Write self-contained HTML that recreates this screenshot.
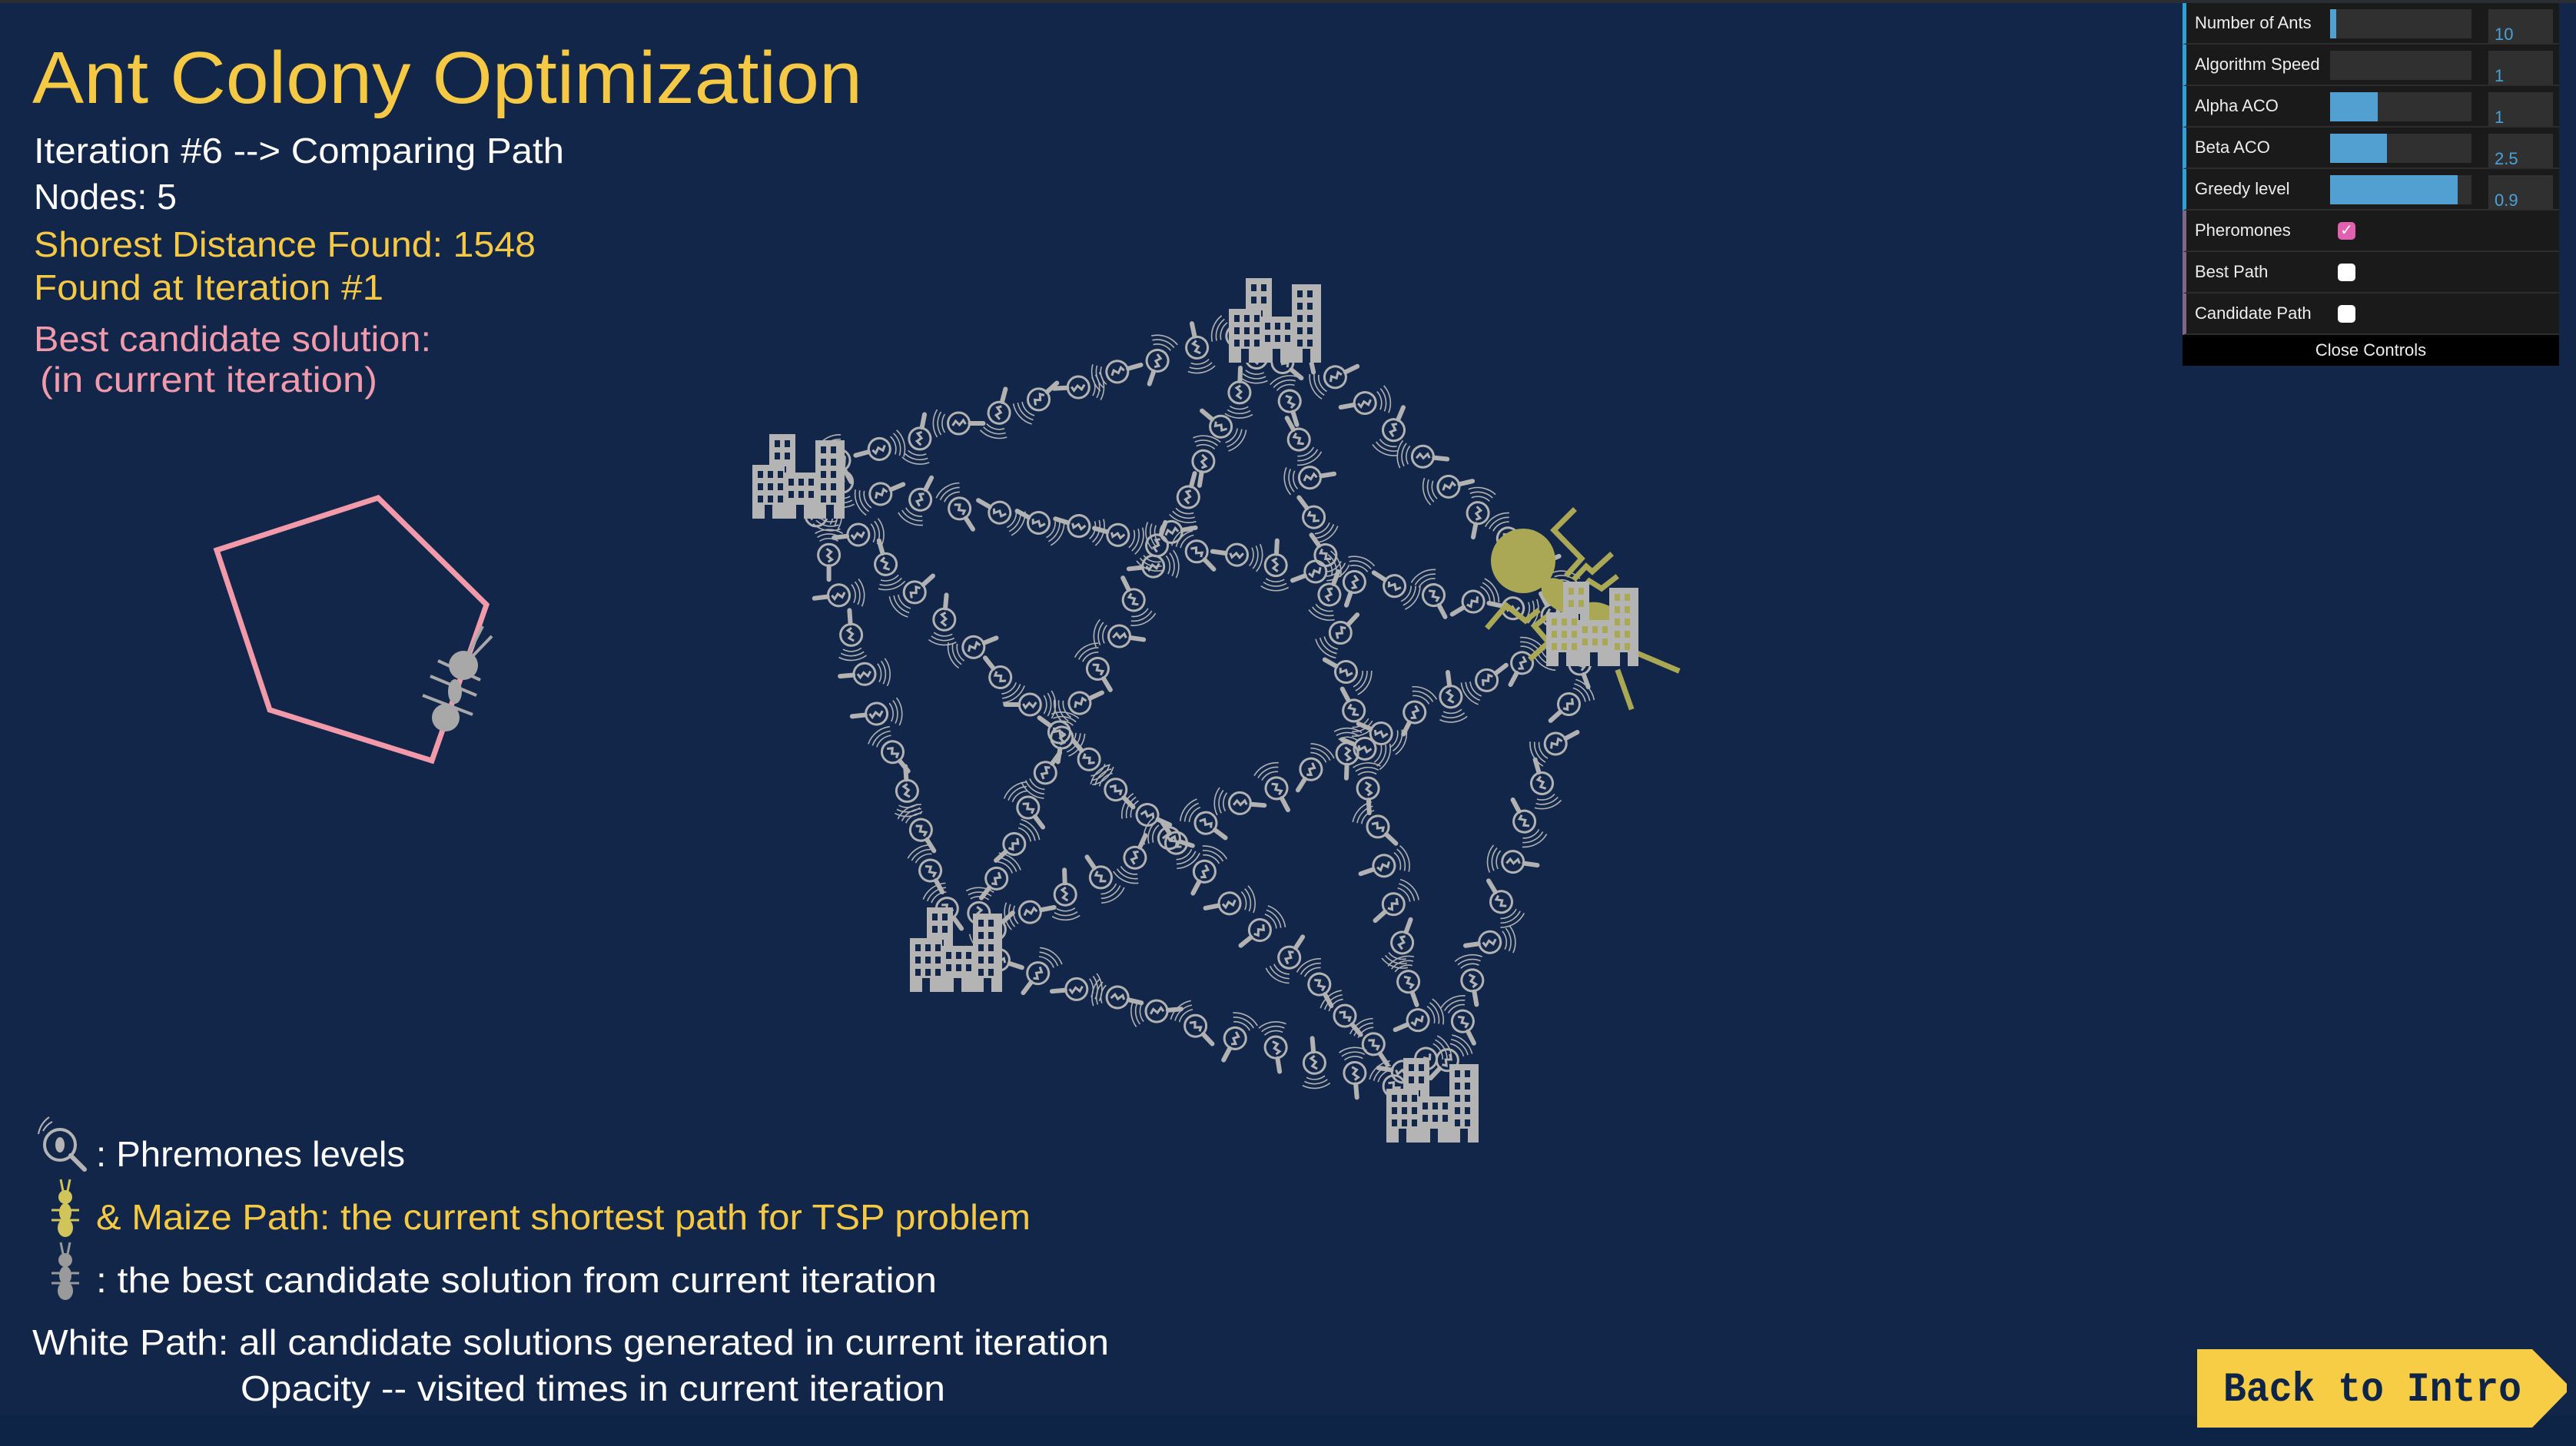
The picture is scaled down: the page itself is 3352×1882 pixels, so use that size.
<!DOCTYPE html>
<html><head><meta charset="utf-8">
<style>
html,body{margin:0;padding:0;}
body{width:3352px;height:1882px;overflow:hidden;background:#12264a;position:relative;font-family:"Liberation Sans",sans-serif;}
#topbar{position:absolute;left:0;top:0;width:3352px;height:4px;background:#2a2d33;}
#bottom{position:absolute;left:0;top:1842px;width:3352px;height:40px;background:#0e2447;}
svg{position:absolute;left:0;top:0;}
.panel{position:absolute;left:2840px;top:4px;width:490px;background:#1a1a1a;}
.row{position:relative;height:52px;border-bottom:2px solid #2c2c2c;border-left:5px solid #2fa1d6;box-sizing:content-box;}
.row.cb{border-left-color:#806787;}
.row .lbl{position:absolute;left:11px;top:13px;color:#eee;font-size:22px;white-space:nowrap;}
.row .trk{position:absolute;left:187px;top:8px;width:184px;height:38px;background:#303030;}
.row .fill{position:absolute;left:0;top:0;height:38px;background:#52a0d2;}
.row .val{position:absolute;left:393px;top:8px;width:84px;height:44px;background:#303030;color:#4aa2d8;font-size:22px;}
.row .val span{position:absolute;left:8px;bottom:-2px;}
.row .box{position:absolute;left:197px;top:15px;width:23px;height:23px;border-radius:5px;background:#fff;}
.row .box.on{background:#e061b0;color:#fff;font-size:20px;line-height:23px;text-align:center;}
.close{height:40px;background:#000;color:#eee;font-size:22px;text-align:center;line-height:40px;}
</style></head>
<body>
<div id="topbar"></div>
<div id="bottom"></div>
<svg id="g" width="3352" height="1882" viewBox="0 0 3352 1882" xmlns="http://www.w3.org/2000/svg">
<g font-family="Liberation Sans, sans-serif">
<text x="42" y="134" font-size="96" fill="#f6c945" textLength="1080" lengthAdjust="spacingAndGlyphs">Ant Colony Optimization</text>
<text x="44" y="212" font-size="46" fill="#ffffff" textLength="690" lengthAdjust="spacingAndGlyphs">Iteration #6 --&gt; Comparing Path</text>
<text x="44" y="272" font-size="46" fill="#ffffff" textLength="186" lengthAdjust="spacingAndGlyphs">Nodes: 5</text>
<text x="44" y="334" font-size="46" fill="#f6c945" textLength="653" lengthAdjust="spacingAndGlyphs">Shorest Distance Found: 1548</text>
<text x="44" y="390" font-size="46" fill="#f6c945" textLength="455" lengthAdjust="spacingAndGlyphs">Found at Iteration #1</text>
<text x="44" y="457" font-size="46" fill="#f09aac" textLength="517" lengthAdjust="spacingAndGlyphs">Best candidate solution:</text>
<text x="52" y="510" font-size="46" fill="#f09aac" textLength="439" lengthAdjust="spacingAndGlyphs">(in current iteration)</text>

<text x="125" y="1518" font-size="46" fill="#ffffff" textLength="402" lengthAdjust="spacingAndGlyphs">: Phremones levels</text>
<text x="125" y="1600" font-size="46" fill="#f6c945" textLength="1216" lengthAdjust="spacingAndGlyphs">&amp; Maize Path: the current shortest path for TSP problem</text>
<text x="125" y="1682" font-size="46" fill="#ffffff" textLength="1094" lengthAdjust="spacingAndGlyphs">: the best candidate solution from current iteration</text>
<text x="42" y="1763" font-size="46" fill="#ffffff" textLength="1401" lengthAdjust="spacingAndGlyphs">White Path: all candidate solutions generated in current iteration</text>
<text x="313" y="1823" font-size="46" fill="#ffffff" textLength="917" lengthAdjust="spacingAndGlyphs">Opacity -- visited times in current iteration</text>
</g>

<!-- pentagon -->
<polygon points="282,716 492,648 633,787 562,990 351,924" fill="none" stroke="#f29aaa" stroke-width="7" stroke-linejoin="miter"/>
<!-- gray ant on pentagon -->
<g stroke="#a8a8a8" stroke-width="4" fill="none">
<line x1="560" y1="880" x2="620" y2="905"/><line x1="570" y1="860" x2="625" y2="885"/><line x1="550" y1="905" x2="615" y2="930"/>
<line x1="610" y1="850" x2="628" y2="815"/><line x1="614" y1="855" x2="640" y2="828"/>
</g>
<g fill="#a8a8a8"><circle cx="603" cy="866" r="19"/><ellipse cx="592" cy="900" rx="9" ry="16"/><circle cx="580" cy="934" r="18"/></g>

<!-- legend icons -->
<g transform="translate(78,1490)">
<circle cx="0" cy="0" r="20" fill="none" stroke="#b4b4b4" stroke-width="4"/>
<ellipse cx="0" cy="0" rx="6" ry="10" fill="#b4b4b4"/>
<line x1="14" y1="14" x2="32" y2="32" stroke="#b4b4b4" stroke-width="6" stroke-linecap="round"/>
<path d="M-22,-18 A28,28 0 0 1 -10,-30 M-28,-14 A34,34 0 0 1 -14,-36" stroke="#b4b4b4" stroke-width="2" fill="none"/>
</g>
<g transform="translate(85,1570)" fill="#d0c45a" stroke="#d0c45a">
<line x1="-6" y1="-35" x2="-3" y2="-20" stroke-width="3"/><line x1="6" y1="-35" x2="3" y2="-20" stroke-width="3"/>
<line x1="-18" y1="5" x2="18" y2="5" stroke-width="3"/><line x1="-18" y1="18" x2="18" y2="18" stroke-width="3"/>
<circle cx="0" cy="-12" r="9" stroke="none"/><ellipse cx="0" cy="8" rx="8" ry="12" stroke="none"/><ellipse cx="0" cy="28" rx="10" ry="12" stroke="none"/>
</g>
<g transform="translate(85,1652)" fill="#9a9a9a" stroke="#9a9a9a">
<line x1="-6" y1="-35" x2="-3" y2="-20" stroke-width="3"/><line x1="6" y1="-35" x2="3" y2="-20" stroke-width="3"/>
<line x1="-18" y1="5" x2="18" y2="5" stroke-width="3"/><line x1="-18" y1="18" x2="18" y2="18" stroke-width="3"/>
<circle cx="0" cy="-12" r="9" stroke="none"/><ellipse cx="0" cy="8" rx="8" ry="12" stroke="none"/><ellipse cx="0" cy="28" rx="10" ry="12" stroke="none"/>
</g>

<g id="mags"></g>
<g id="yant">
<g stroke="#aaa855" stroke-width="7" fill="none" stroke-linecap="square">
<polyline points="2047,665 2022,690 2058,727 2040,747"/>
<polyline points="2095,723 2072,744 2064,737 2050,752"/>
<polyline points="2102,752 2084,766 2068,756 2060,765"/>
<polyline points="1937,815 1960,788 1985,808 2000,796"/>
<polyline points="1993,856 2015,836 1997,815 2012,803"/>
<line x1="2130" y1="850" x2="2182" y2="872"/>
<line x1="2106" y1="875" x2="2122" y2="920"/>
</g>
<circle cx="1982" cy="730" r="42" fill="#aaa855"/>
<ellipse cx="2030" cy="775" rx="28" ry="18" transform="rotate(40 2030 775)" fill="#aaa855"/>
<ellipse cx="2085" cy="818" rx="42" ry="30" transform="rotate(35 2085 818)" fill="#aaa855"/>
</g>
<g id="bld"></g>

<!-- Back to Intro -->
<polygon points="2859,1756 3295,1756 3340,1801 3340,1812 3295,1858 2859,1858" fill="#f7cd45"/>
<text x="2893" y="1823" font-family="Liberation Mono, monospace" font-weight="bold" font-size="54" fill="#0f2548" textLength="388" lengthAdjust="spacingAndGlyphs">Back to Intro</text>
</svg>

<div class="panel">
<div class="row"><div class="lbl">Number of Ants</div><div class="trk"><div class="fill" style="width:8px"></div></div><div class="val"><span>10</span></div></div>
<div class="row"><div class="lbl">Algorithm Speed</div><div class="trk"></div><div class="val"><span>1</span></div></div>
<div class="row"><div class="lbl">Alpha ACO</div><div class="trk"><div class="fill" style="width:62px"></div></div><div class="val"><span>1</span></div></div>
<div class="row"><div class="lbl">Beta ACO</div><div class="trk"><div class="fill" style="width:74px"></div></div><div class="val"><span>2.5</span></div></div>
<div class="row"><div class="lbl">Greedy level</div><div class="trk"><div class="fill" style="width:166px"></div></div><div class="val"><span>0.9</span></div></div>
<div class="row cb"><div class="lbl">Pheromones</div><div class="box on">✓</div></div>
<div class="row cb"><div class="lbl">Best Path</div><div class="box"></div></div>
<div class="row cb"><div class="lbl">Candidate Path</div><div class="box"></div></div>
<div class="close">Close Controls</div>
</div>

<script>
(function(){
var NS="http://www.w3.org/2000/svg";
var nodes=[[1041,620],[1661,417],[2074,812],[1866,1432],[1246,1236]];
var seed=7;function rnd(){seed=(seed*16807)%2147483647;return (seed-1)/2147483646;}
var C="#b2b2b2";
var s="";
for(var i=0;i<5;i++)for(var j=i+1;j<5;j++){
 var a=nodes[i],b=nodes[j],dx=b[0]-a[0],dy=b[1]-a[1],L=Math.sqrt(dx*dx+dy*dy);
 var n=Math.round((L-110)/52);
 for(var k=0;k<=n;k++){
  var t=(55+k*(L-110)/n)/L;
  var px=-dy/L,py=dx/L,j2=(rnd()-0.5)*8;
  var x=a[0]+dx*t+px*j2,y=a[1]+dy*t+py*j2,r=Math.floor(rnd()*360);
  s+='<g transform="translate('+x.toFixed(1)+','+y.toFixed(1)+') rotate('+r+')">'+
  '<circle r="14" fill="none" stroke="'+C+'" stroke-width="3"/>'+
  '<path d="M-3,-8 L3,-4 L-2,1 L4,6 L-1,9" stroke="'+C+'" stroke-width="3" fill="none"/>'+
  '<line x1="0" y1="15" x2="0" y2="32" stroke="'+C+'" stroke-width="6" stroke-linecap="round"/>'+
  '<path d="M-12,-18 A22,22 0 0 1 12,-18 M-15,-23 A28,28 0 0 1 15,-23 M-18,-28 A34,34 0 0 1 18,-28" stroke="'+C+'" stroke-width="1.6" fill="none"/>'+
  '</g>';
 }
}
document.getElementById("mags").innerHTML=s;
var b="";
for(var q=0;q<5;q++){
 var cx=nodes[q][0],cy=nodes[q][1];
 var x0=cx-62,y0=cy-55;
 var rects=[[x0+22,y0,34,60],[x0+82,y0+8,38,102],[x0,y0+40,42,70],[x0+40,y0+50,44,60]];
 var W="#12264a";
 rects.forEach(function(R){
  b+='<rect x="'+R[0]+'" y="'+R[1]+'" width="'+R[2]+'" height="'+R[3]+'" fill="#b4b4b4"/>';
  for(var yy=R[1]+8;yy<R[1]+R[3]-22;yy+=16)for(var xx=R[0]+7;xx<R[0]+R[2]-8;xx+=13)
   b+='<rect x="'+xx+'" y="'+yy+'" width="7" height="9" fill="'+(q==2?"#aaa855":W)+'"/>';
  b+='<rect x="'+(R[0]+R[2]/2-5)+'" y="'+(R[1]+R[3]-18)+'" width="10" height="18" fill="'+W+'"/>';
 });
}
document.getElementById("bld").innerHTML=b;
})();
</script>
</body></html>
